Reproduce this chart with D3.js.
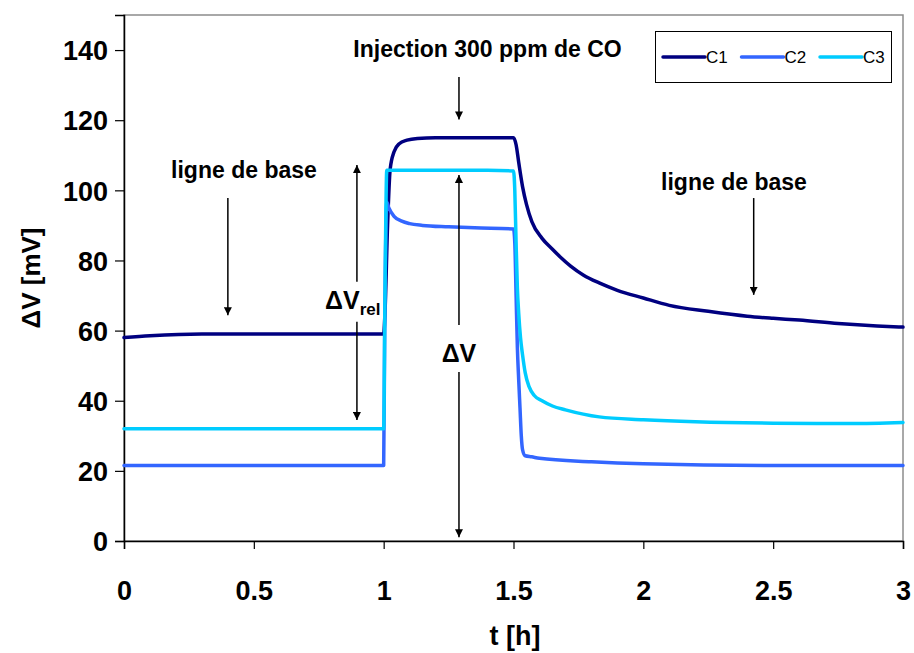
<!DOCTYPE html>
<html><head><meta charset="utf-8">
<script src="https://cdn.jsdelivr.net/npm/d3@7"></script>
<style>body{margin:0;background:#fff}svg{display:block}text{font-family:"Liberation Sans",Arial,sans-serif}</style>
</head><body>
<script>
// ---- data ----
const seriesNames = ["C1", "C2", "C3"];
const seriesColors = ["#000080", "#3366FF", "#00CCFF"];
const tC1 = [0, 0.1, 0.3, 0.5, 0.8, 1.0, 1.005, 1.015, 1.025, 1.04, 1.06, 1.09, 1.13, 1.2, 1.3, 1.4, 1.5, 1.51, 1.52, 1.535, 1.55, 1.571, 1.61, 1.65, 1.68, 1.72, 1.77, 1.83, 1.9, 2.0, 2.1, 2.25, 2.4, 2.5, 2.6, 2.75, 2.9, 3.0];
const vC1 = [58, 58.5, 59, 59, 59, 59, 65, 90, 106, 111, 113.3, 114.3, 114.8, 115, 115, 115, 115, 113, 108, 101, 96, 91, 86.3, 83.2, 81, 78.4, 75.8, 73.6, 71.5, 69.3, 67.2, 65.5, 64.1, 63.5, 63, 62, 61.3, 61];
const tC2 = [0, 0.5, 1.0, 1.004, 1.012, 1.02, 1.04, 1.07, 1.1, 1.15, 1.25, 1.35, 1.5, 1.505, 1.51, 1.515, 1.52, 1.525, 1.53, 1.535, 1.545, 1.57, 1.6, 1.8, 2.0, 2.5, 3.0];
const vC2 = [21.5, 21.5, 21.5, 60, 96.6, 95, 92.6, 91.2, 90.5, 90, 89.6, 89.3, 89, 85, 70, 55, 46, 38, 30, 26, 24.3, 24, 23.6, 22.6, 22, 21.5, 21.5];
const tC3 = [0, 0.5, 1.0, 1.005, 1.012, 1.03, 1.2, 1.4, 1.5, 1.505, 1.51, 1.515, 1.52, 1.527, 1.535, 1.545, 1.56, 1.58, 1.61, 1.65, 1.7, 1.83, 2.0, 2.2, 2.5, 2.8, 3.0];
const vC3 = [32, 32, 32, 70, 105.7, 105.7, 105.7, 105.7, 105.5, 100, 85, 72, 65, 58, 53, 48, 44, 41.5, 40, 38.5, 37.4, 35.4, 34.6, 34, 33.6, 33.5, 33.8];
const xTicks = [0, 0.5, 1, 1.5, 2, 2.5, 3];
const yTicks = [0, 20, 40, 60, 80, 100, 120, 140];
const xTitle = "t [h]";
const yTitle = "ΔV [mV]";
// annotations in data coordinates
const labels = [
  {text: "Injection 300 ppm de CO", t: 1.40, v: 138},
  {text: "ligne de base", t: 0.462, v: 103.5},
  {text: "ligne de base", t: 2.349, v: 100.1}
];
const arrows = [
  {t: 1.29, v0: 132.3, v1: 120.2},
  {t: 0.40, v0: 97.8, v1: 64.4},
  {t: 2.425, v0: 97.8, v1: 70.2},
  {t: 0.897, v0: 73.9, v1: 107.2},
  {t: 0.897, v0: 62.5, v1: 34.5},
  {t: 1.29, v0: 61.6, v1: 104.4},
  {t: 1.29, v0: 48.2, v1: 1.1}
];

const W = 914, H = 653;
const m = {l: 124, r: 11, t: 15, b: 112};
const x = d3.scaleLinear().domain([0, 3]).range([m.l, W - m.r]);
const y = d3.scaleLinear().domain([0, 150]).range([H - m.b, m.t]);

const svg = d3.select("body").append("svg").attr("width", W).attr("height", H);
svg.append("defs").append("marker").attr("id", "ah").attr("viewBox", "0 0 10 10")
  .attr("refX", 10).attr("refY", 5).attr("markerWidth", 8).attr("markerHeight", 8)
  .attr("markerUnits", "userSpaceOnUse").attr("orient", "auto")
  .append("path").attr("d", "M0,0 L10,5 L0,10 Z").attr("fill", "#000");

// plot frame (gray top/right)
svg.append("rect").attr("x", x(0)).attr("y", y(150)).attr("width", x(3) - x(0)).attr("height", y(0) - y(150))
  .attr("fill", "none").attr("stroke", "#8c8c8c").attr("stroke-width", 1.5);

// axes
const xAxis = svg.append("g").attr("transform", `translate(0,${y(0)})`)
  .call(d3.axisBottom(x).tickValues(xTicks).tickSize(8).tickPadding(32).tickFormat(d => String(d)));
const yAxis = svg.append("g").attr("transform", `translate(${x(0)},0)`)
  .call(d3.axisLeft(y).tickValues(yTicks).tickSize(9).tickPadding(7).tickFormat(d => String(d)));
[xAxis, yAxis].forEach(g => {
  g.select(".domain").attr("stroke", "#000").attr("stroke-width", 1.5);
  g.selectAll(".tick line").attr("stroke", "#000").attr("stroke-width", 1.2);
  g.selectAll(".tick text").attr("font-size", 27).attr("font-weight", "bold").attr("fill", "#000")
    .attr("font-family", '"Liberation Sans", Arial, sans-serif');
});
xAxis.selectAll(".tick text").attr("dy", "0.71em");
yAxis.selectAll(".tick text").attr("dy", "0.36em");

svg.append("text").attr("x", 515).attr("y", 645).attr("text-anchor", "middle")
  .attr("font-size", 27).attr("font-weight", "bold").text(xTitle);
svg.append("text").attr("transform", `translate(40,${(y(0) + y(150)) / 2}) rotate(-90)`)
  .attr("text-anchor", "middle").attr("font-size", 26).attr("font-weight", "bold").text(yTitle);

// series
const series = [
  {name: seriesNames[0], color: seriesColors[0], t: tC1, v: vC1},
  {name: seriesNames[1], color: seriesColors[1], t: tC2, v: vC2},
  {name: seriesNames[2], color: seriesColors[2], t: tC3, v: vC3}
];
const line = d3.line().curve(d3.curveMonotoneX).x(d => x(d[0])).y(d => y(d[1]));
series.forEach(s => {
  svg.append("path").datum(s.t.map((t, i) => [t, s.v[i]]))
    .attr("d", line).attr("fill", "none").attr("stroke", s.color)
    .attr("stroke-width", 3.5).attr("stroke-linejoin", "round").attr("stroke-linecap", "round");
});

// annotations
svg.selectAll(".lab").data(labels).join("text").attr("class", "lab")
  .attr("x", d => x(d.t)).attr("y", d => y(d.v)).attr("text-anchor", "middle")
  .attr("font-size", 23).attr("font-weight", "bold").text(d => d.text);
svg.selectAll(".arr").data(arrows).join("line").attr("class", "arr")
  .attr("x1", d => x(d.t)).attr("x2", d => x(d.t)).attr("y1", d => y(d.v0)).attr("y2", d => y(d.v1))
  .attr("stroke", "#000").attr("stroke-width", 1.5).attr("marker-end", "url(#ah)");

const dvr = svg.append("text").attr("x", x(0.774)).attr("y", y(66.2)).attr("font-size", 25).attr("font-weight", "bold");
dvr.append("tspan").text("ΔV");
dvr.append("tspan").attr("font-size", 17).attr("dy", 6).text("rel");
svg.append("text").attr("x", x(1.29)).attr("y", y(51)).attr("text-anchor", "middle")
  .attr("font-size", 25).attr("font-weight", "bold").text("ΔV");

// legend
const lg = svg.append("g");
lg.append("rect").attr("x", 655.5).attr("y", 31.5).attr("width", 236).attr("height", 51)
  .attr("fill", "#fff").attr("stroke", "#000").attr("stroke-width", 1);
series.forEach((s, i) => {
  const x0 = 663 + i * 78.5;
  lg.append("line").attr("x1", x0).attr("x2", x0 + 42).attr("y1", 57).attr("y2", 57)
    .attr("stroke", s.color).attr("stroke-width", 3.5).attr("stroke-linecap", "round");
  lg.append("text").attr("x", x0 + 43).attr("y", 63).attr("font-size", 17).text(s.name);
});
</script>
</body></html>
